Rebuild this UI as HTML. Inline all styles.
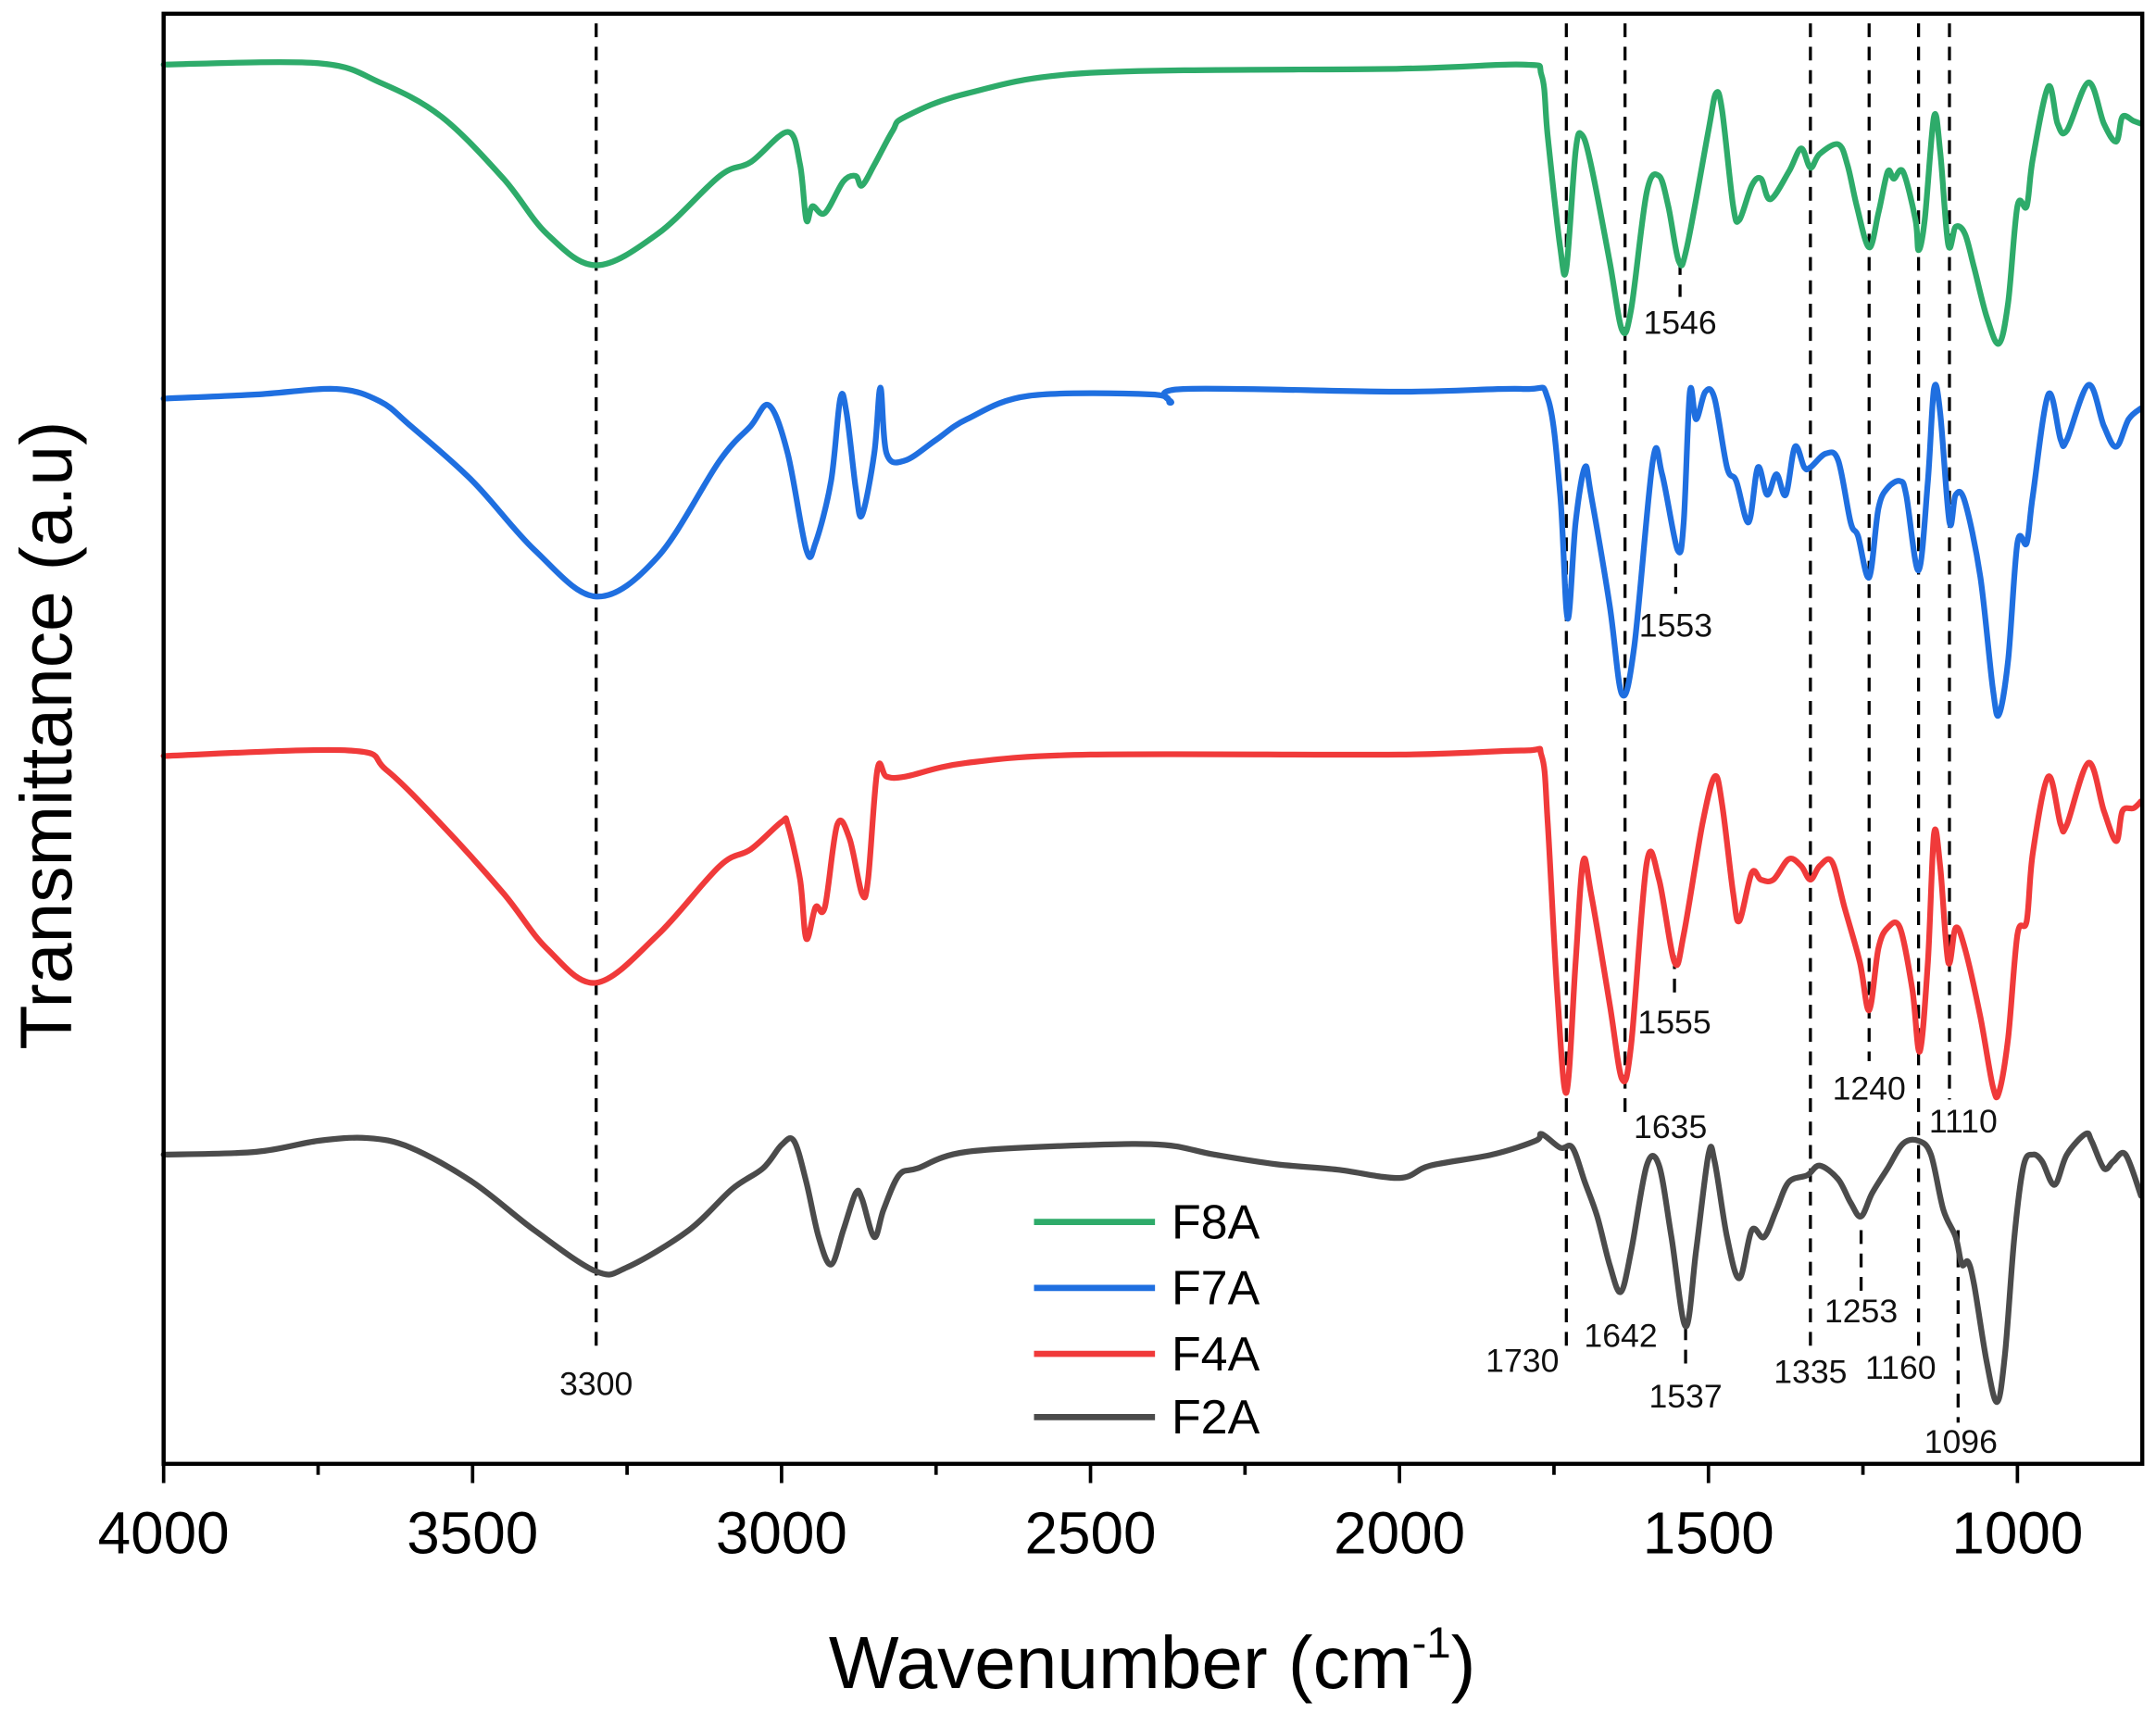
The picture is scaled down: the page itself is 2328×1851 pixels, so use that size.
<!DOCTYPE html>
<html>
<head>
<meta charset="utf-8">
<style>
html,body{margin:0;padding:0;background:#fff;}
svg{display:block;}
text{font-family:"Liberation Sans",Arial,sans-serif;}
</style>
</head>
<body>
<svg id="chart" xmlns="http://www.w3.org/2000/svg" width="2328" height="1851" viewBox="0 0 1568 1247" preserveAspectRatio="none">
<g id="grid-layer"></g>
<g id="series-layer"></g>
<g id="axis-layer"></g>
<g id="label-layer"></g>
<g id="legend"></g>
</svg>
<script>
const xTicks = [4000, 3500, 3000, 2500, 2000, 1500, 1000];
const seriesNames = ["F8A", "F7A", "F4A", "F2A"];
const seriesColors = ["#2eab6a", "#1f6fe0", "#f03a3a", "#4b4b4b"];
const f8aWn = [4000,3750,3650,3550,3450,3380,3300,3200,3100,3050,2990,2970,2960,2950,2930,2900,2880,2870,2850,2820,2800,2700,2500,2000,1800,1770,1760,1740,1730,1715,1705,1690,1660,1640,1625,1600,1580,1565,1548,1535,1500,1488,1478,1460,1450,1430,1415,1400,1370,1350,1335,1320,1290,1275,1260,1240,1225,1210,1200,1185,1165,1160,1150,1135,1125,1112,1100,1085,1070,1050,1030,1015,1000,985,975,950,935,920,885,860,840,830,812,800];
const f8aT = [105.3,105.4,104,101.5,97,93,90.7,93,97.2,98.2,100.4,98,94,95,94.5,96.8,97.2,96.5,98,100.5,101.5,103.2,104.7,105,105.3,104.5,100,92,90.5,99,100.2,98,91,86,87.5,96,97.2,95,91,92,100.5,103.2,102,95,94,96.5,97,95.5,97.5,99.2,97.8,98.8,99.5,98,95,92,94.5,97.5,97,97.5,94,91.8,94,101.5,99,92.2,93.5,93,90.5,87,85,88,95,95,98.5,103.7,101,100.5,104,101,99.7,101.5,101.2,101];
const f7aWn = [4000,3850,3720,3650,3600,3500,3400,3300,3200,3100,3050,3020,2990,2960,2945,2920,2905,2895,2880,2870,2850,2840,2830,2800,2750,2700,2600,2400,2370,2350,2000,1800,1760,1740,1728,1715,1700,1690,1660,1640,1620,1590,1575,1550,1540,1530,1520,1505,1490,1470,1455,1435,1420,1405,1390,1375,1360,1345,1335,1310,1290,1270,1258,1240,1225,1210,1190,1180,1160,1145,1135,1125,1110,1100,1085,1060,1040,1030,1015,1000,985,975,950,930,920,885,860,840,820,800];
const f7aT = [81,81.3,81.7,80.8,79,75,70,66.6,69.5,76.5,79,80.5,77,70,70.5,75,81,80,74.5,72.5,77,81.8,77,76.5,78,79.5,81.2,81.3,80.7,81.7,81.5,81.7,81,74,65,72,76,74,66,59.5,63,76.5,75.5,70,72,81.5,79.5,81.5,81,76,75,72,76,74,75.5,74,77.5,76,76,77,76.5,72,71,68,73,74.5,75,74,68.5,75,81.7,80,72,74,73.5,68,60,58,62,70.5,70.5,74,81.3,78,78,82,79,77.5,79.5,80.3];
const f4aWn = [4000,3700,3640,3550,3450,3380,3300,3200,3100,3050,3000,2990,2970,2960,2945,2930,2910,2890,2870,2860,2845,2830,2800,2700,2500,2000,1800,1770,1760,1745,1730,1715,1703,1690,1660,1640,1625,1600,1580,1555,1540,1510,1490,1478,1460,1450,1430,1415,1395,1370,1350,1335,1320,1300,1280,1255,1240,1225,1210,1190,1170,1158,1145,1135,1125,1112,1100,1085,1060,1040,1030,1015,1000,985,975,950,930,920,885,860,840,830,812,800];
const f4aT = [55,55.4,54,50,45,41,38.5,42,47,48.2,50.2,50,46,41.7,44,44,50,49,45,46,54,53.5,53.5,54.5,55.1,55.1,55.4,55,50,38,30.5,40,47.3,45,37,31.5,34,47.2,46,40,42,50,53.5,51.5,45,43,46.5,46,46,47.5,47,46,47,47.3,44,40,36.5,41,42.5,42.5,38,33.5,40,49.3,47,40,42.5,41,36,31,30.5,34.5,42,43,48,53.5,50,50,54.5,51,48.8,51,51.2,51.7];
const f2aWn = [4000,3850,3750,3670,3600,3500,3400,3300,3250,3150,3080,3030,3000,2980,2960,2940,2920,2900,2880,2870,2850,2835,2810,2780,2700,2500,2380,2300,2200,2100,2000,1950,1850,1780,1770,1740,1720,1700,1680,1660,1642,1625,1600,1580,1560,1537,1520,1500,1490,1470,1450,1430,1410,1390,1370,1340,1320,1290,1270,1253,1235,1210,1185,1160,1140,1120,1100,1090,1080,1070,1050,1033,1020,1005,990,975,960,940,920,890,880,860,845,825,800];
const f2aT = [26,26.2,27,27.2,26.5,24,20.5,17.5,17.8,20.5,23.5,25,26.7,27,24,20,18,20.5,23.2,22.8,20,22,24.5,25,26.2,26.7,26.7,26,25.3,24.9,24.3,25.2,26,27,27.5,26.5,26.5,24,21.5,18,16,19,25.2,25.2,20,13.5,19,26,25.5,20,17,20.5,20,22,24,24.5,25.2,24.2,22.5,21.5,23.2,25,26.8,27,26,22,20,18,18.2,16.5,11,8,11.5,20,25.2,26,25.5,23.8,26,27.5,27,25,25.5,26,23];
const peakWn = [1546, 1553, 1555, 1635, 1240, 1110, 1253, 1730, 1642, 1537, 1335, 1160, 1096, 3300];
const peakLabelT = [85.7, 63.7, 34.8, 27.2, 30, 27.6, 13.8, 10.2, 12, 7.6, 9.4, 9.7, 4.3, 8.5];
const refWn = [3300, 1730, 1635, 1335, 1240, 1160, 1110];

const NS = "http://www.w3.org/2000/svg";
const X0 = 119, X1 = 1558, Y0 = 10, Y1 = 1065;
function xs(w){ return X0 + (4000 - w) * (X1 - X0) / (4000 - 798); }
function ys(t){ return 1100 - t * 10; }
function mk(tag, attrs, parent){
  const e = document.createElementNS(NS, tag);
  for (const k in attrs) e.setAttribute(k, attrs[k]);
  parent.appendChild(e);
  return e;
}
const grid = document.getElementById('grid-layer');
const ser = document.getElementById('series-layer');
const ax = document.getElementById('axis-layer');
const lab = document.getElementById('label-layer');
const leg = document.getElementById('legend');

refWn.forEach(w => {
  const bottom = (w === 1635) ? 815 : (w === 1240 ? 772 : (w === 1110 ? 800 : 985));
  const l = mk('line', {x1: xs(w), x2: xs(w), y1: 17, y2: bottom, stroke: '#000', 'stroke-width': 2.2, 'stroke-dasharray': '10,7'}, grid);
  
  
});
[[1546,190,216],[1553,410,432],[1555,695,722],[1537,965,992],[1253,895,940],[1096,895,1035]].forEach(s => {
  const l = mk('line', {x1: xs(s[0]), x2: xs(s[0]), y1: s[1], y2: s[2], stroke: '#000', 'stroke-width': 2.2, 'stroke-dasharray': '10,7'}, grid);
  
  
});

function pathFor(wn, t){
  const p = wn.map((w, i) => [xs(w), ys(t[i])]);
  let d = 'M' + p[0][0].toFixed(1) + ',' + p[0][1].toFixed(1);
  for (let i = 0; i < p.length - 1; i++) {
    const a = p[Math.max(0, i - 1)], b = p[i], c = p[i + 1], e = p[Math.min(p.length - 1, i + 2)];
    const k = 6;
    const c1x = b[0] + (c[0] - a[0]) / k, c1y = b[1] + (c[1] - a[1]) / k;
    const c2x = c[0] - (e[0] - b[0]) / k, c2y = c[1] - (e[1] - b[1]) / k;
    d += ' C' + c1x.toFixed(1) + ',' + c1y.toFixed(1) + ' ' + c2x.toFixed(1) + ',' + c2y.toFixed(1) + ' ' + c[0].toFixed(1) + ',' + c[1].toFixed(1);
  }
  return d;
}
const allWn = [f8aWn, f7aWn, f4aWn, f2aWn];
const allT = [f8aT, f7aT, f4aT, f2aT];
allWn.forEach((wn, i) => {
  const p = mk('path', {d: pathFor(wn, allT[i]), fill: 'none', stroke: seriesColors[i], 'stroke-width': 4.2, 'stroke-linejoin': 'round', 'stroke-linecap': 'round'}, ser);
  
  
});

const fr = mk('rect', {x: X0, y: Y0, width: X1 - X0, height: Y1 - Y0, fill: 'none', stroke: '#000', 'stroke-width': 3}, ax);


for (let w = 4000; w >= 800; w -= 250) {
  const major = (w % 500 === 0);
  const t = mk('line', {x1: xs(w), x2: xs(w), y1: Y1, y2: Y1 + (major ? 14 : 8), stroke: '#000', 'stroke-width': 2.5}, ax);
  
  
}
xTicks.forEach(w => {
  const t = mk('text', {x: xs(w), y: 1130, 'font-size': 43, 'text-anchor': 'middle', fill: '#000'}, ax);
  t.textContent = w;
  
  
});
const xt = mk('text', {x: 838, y: 1228, 'font-size': 54, 'text-anchor': 'middle', fill: '#000'}, ax);
xt.innerHTML = 'Wavenumber (cm<tspan dy="-22" font-size="32">-1</tspan><tspan dy="22">)</tspan>';


const yt = mk('text', {x: 0, y: 0, 'font-size': 53, 'text-anchor': 'middle', fill: '#000', transform: 'translate(52,535) rotate(-90)'}, ax);
yt.textContent = 'Transmittance (a.u)';



const labelDx = [0, 0, 0, 33, 0, 10, 0, -32, 0, 0, 0, -13, 2, 0];
peakWn.forEach((w, i) => {
  const t = mk('text', {x: xs(w) + labelDx[i], y: ys(peakLabelT[i]), 'font-size': 24, 'text-anchor': 'middle', fill: '#111'}, lab);
  t.textContent = w;
  
  
});

const legY = [889, 937, 985, 1031];
seriesNames.forEach((n, i) => {
  const l = mk('line', {x1: 752, x2: 840, y1: legY[i], y2: legY[i], stroke: seriesColors[i], 'stroke-width': 4.5}, leg);
  
  
  const t = mk('text', {x: 852, y: legY[i] + 12, 'font-size': 35, fill: '#000'}, leg);
  t.textContent = n;
  
  
});
</script>
</body>
</html>
